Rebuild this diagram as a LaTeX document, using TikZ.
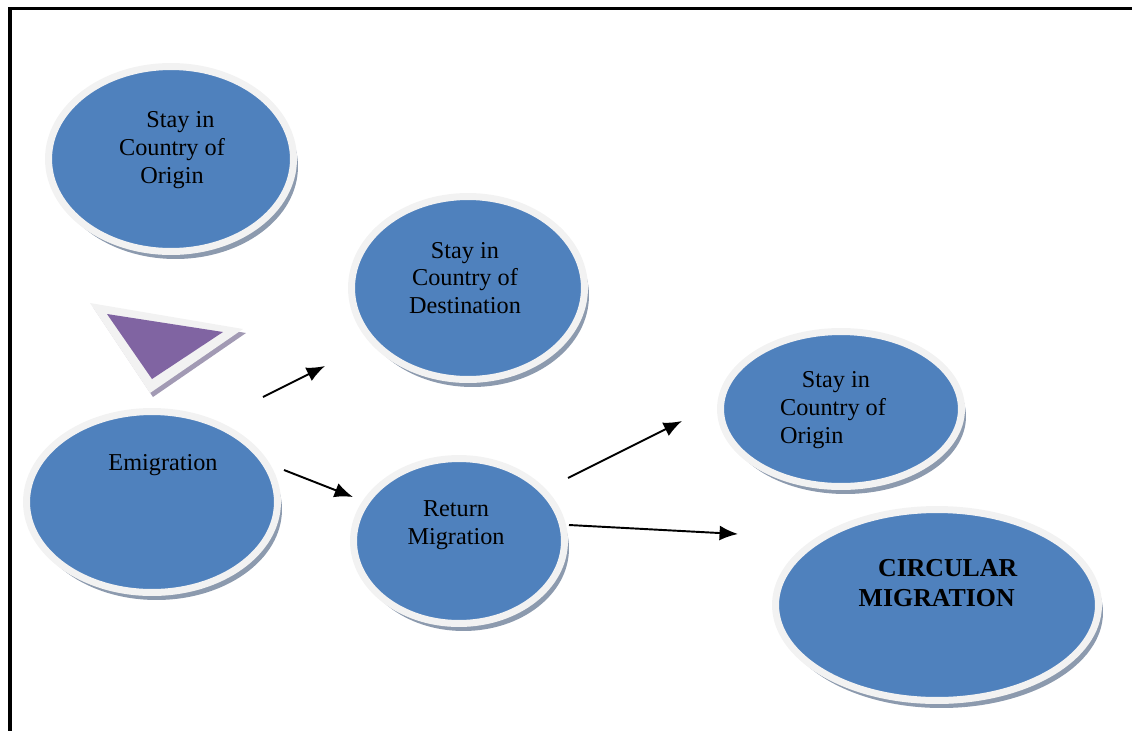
\documentclass[tikz,border=0pt]{standalone}
\usepackage{fontspec}
\setmainfont{Liberation Serif}
\usetikzlibrary{shapes.geometric, arrows.meta, positioning, shadows}

\definecolor{blobblue}{RGB}{79,129,189}
\definecolor{rimgray}{RGB}{242,242,242}
\definecolor{shadegray}{RGB}{140,154,174}
\definecolor{wedge}{RGB}{128,100,162}
\definecolor{wedgeshade}{RGB}{162,154,180}

\begin{document}
\begin{tikzpicture}[x=0.02cm, y=-0.02cm]
    \tikzstyle{blob} = [ellipse, fill=blobblue, draw=rimgray, line width=0.14cm, inner sep=0pt, drop shadow={shadow xshift=0.09cm, shadow yshift=-0.15cm, fill=shadegray, opacity=1}]
    \tikzstyle{txt} = [inner sep=0pt, align=center, font=\fontsize{13.8}{15.7}\selectfont]
    \tikzstyle{line} = [draw, -{Latex[length=10.5pt, width=8.5pt]}, line width=1.1pt]

    \useasboundingbox (0,0) rectangle (1132,731);
    \draw [line width=0.07cm] (1132,8.5) -- (10,8.5) -- (10,731);

    % the little triangle
    \fill [wedgeshade] (93,307) -- (246,333) -- (153,397) -- cycle;
    \fill [rimgray] (90,303) -- (243,329) -- (150,393) -- cycle;
    \fill [wedge] (107,314) -- (223,332) -- (152,379) -- cycle;

    \node [blob, minimum width=4.9cm, minimum height=3.7cm] (orig) at (171,159) {};
    \node [txt] (origtxt) at (172,150) {\hspace*{0.7em}Stay in\\Country of\\Origin};

    \node [blob, minimum width=4.66cm, minimum height=3.66cm] (dest) at (468,288) {};
    \node [txt] (desttxt) at (465,278) {Stay in\\Country of\\Destination};

    \node [blob, minimum width=5.02cm, minimum height=3.62cm] (emig) at (152,502) {};
    \node [txt] (emigtxt) at (163,465) {Emigration};

    \node [blob, minimum width=4.22cm, minimum height=3.3cm] (ret) at (459,541) {};
    \node [txt] (rettxt) at (456,525) {Return\\Migration};

    \node [blob, minimum width=4.82cm, minimum height=3.1cm] (back) at (841,409) {};
    \node [txt, align=left] (backtxt) at (833,410) {\hspace*{0.9em}Stay in\\Country of\\Origin};

    \node [blob, minimum width=6.46cm, minimum height=3.82cm] (circ) at (937,605) {};
    \node [txt, align=left, font=\bfseries\fontsize{14.7}{17.5}\selectfont] (circtxt) at (938,583) {\hspace*{0.75em}CIRCULAR\\MIGRATION};

    % connectors float between the ellipses
    \coordinate (ed1) at (263,397);
    \coordinate (ed2) at (325,366);
    \coordinate (er1) at (284,470);
    \coordinate (er2) at (353,497);
    \coordinate (ro1) at (568,478);
    \coordinate (ro2) at (682,421);
    \coordinate (rc1) at (569,525);
    \coordinate (rc2) at (738,534);

    \path [line] (ed1) -- (ed2);
    \path [line] (er1) -- (er2);
    \path [line] (ro1) -- (ro2);
    \path [line] (rc1) -- (rc2);
\end{tikzpicture}
\end{document}
